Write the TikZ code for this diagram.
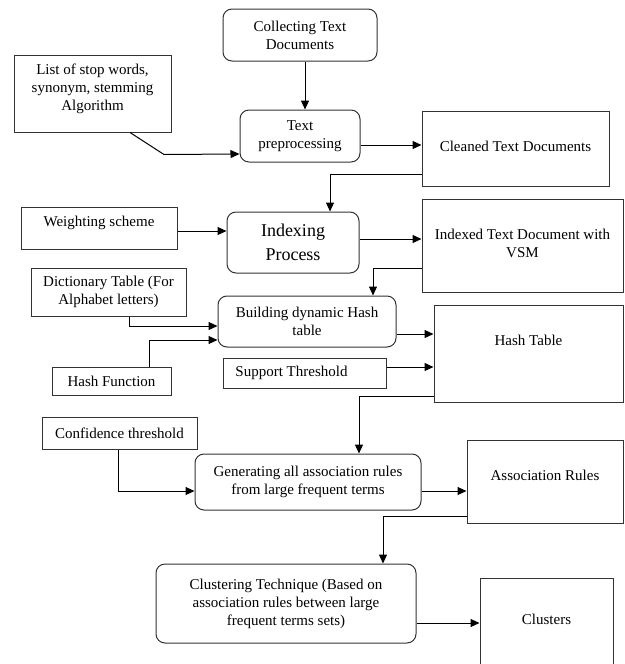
\documentclass[tikz,border=0pt]{standalone}
\usepackage{fontspec}
\setmainfont{Liberation Serif}
\usetikzlibrary{positioning, calc}
\usetikzlibrary{arrows.meta}

\tikzset{
  blk/.style={draw=black!80, line width=1pt, inner sep=2pt},
  rblk/.style={blk, rounded corners=9pt},
  arr/.style={draw=black, line width=1pt, -{Triangle[length=9pt,width=8pt]}},
  bigtxt/.style={font=\fontsize{18}{23.5}\selectfont},
}

\begin{document}
\begin{tikzpicture}[x=1pt, y=-1pt,
  every node/.append style={font=\fontsize{15}{18}\selectfont, align=center}]
\useasboundingbox (0,0) rectangle (624,664);

% main flow
\node[rblk, minimum width=154pt, minimum height=52pt] (collect) at (300,35) {Collecting Text\\Documents};
\node[rblk, minimum width=120pt, minimum height=52pt] (prep) at (300,136) {Text\\preprocessing};
\node[rblk, bigtxt, minimum width=132pt, minimum height=61pt] (index) at (293,242.5) {Indexing\\Process};
\node[rblk, minimum width=178pt, minimum height=51pt] (build) at (307,321.5) {Building dynamic Hash\\table};
\node[rblk, minimum width=226pt, minimum height=56pt] (gen) at (308,482) {Generating all association rules\\from large frequent terms};
\node[rblk, minimum width=260pt, minimum height=79pt] (clust) at (286,603.5) {Clustering Technique (Based on\\association rules between large\\frequent terms sets)};

% inputs
\node[blk, minimum width=157pt, minimum height=77pt,
  label={[yshift=4.5pt]center:List of stop words,\\synonym, stemming\\Algorithm}] (stopw) at (92.5,93.5) {};
\node[blk, minimum width=156pt, minimum height=42pt,
  label={[yshift=5pt]center:Weighting scheme}] (weight) at (99,228) {};
\node[blk, minimum width=155pt, minimum height=48pt] (dict) at (108.5,292) {Dictionary Table (For\\Alphabet letters)};
\node[blk, minimum width=119pt, minimum height=28pt] (hashf) at (111.5,381) {Hash Function};
\node[blk, minimum width=163pt, minimum height=30pt,
  label={[xshift=-13pt]center:Support Threshold}] (support) at (304.5,373) {};
\node[blk, minimum width=155pt, minimum height=32pt] (conf) at (119.5,433) {Confidence threshold};

% outputs
\node[blk, minimum width=187pt, minimum height=75pt,
  label={[yshift=2.5pt]center:Cleaned Text Documents}] (clean) at (515.5,148.5) {};
\node[blk, minimum width=201pt, minimum height=93pt,
  label={[yshift=2pt]center:Indexed Text Document with\\VSM}] (indexed) at (522.5,245.5) {};
\node[blk, minimum width=189pt, minimum height=97pt,
  label={[yshift=13.5pt]center:Hash Table}] (hasht) at (528.5,353.5) {};
\node[blk, minimum width=156pt, minimum height=83pt,
  label={[yshift=6.5pt]center:Association Rules}] (assoc) at (545,481.5) {};
\node[blk, minimum width=133pt, minimum height=102pt,
  label={[yshift=10pt]center:Clusters}] (clusters) at (546.5,629) {};

% connectors
\draw[arr] ([xshift=5pt]collect.south) -- ([xshift=5pt]prep.north);
\draw[arr] ([xshift=37.5pt]stopw.south) -- ++(34,22) -- ([yshift=-18pt]prep.west);
\draw[arr] ([yshift=-9pt]prep.east) -- ([yshift=-9pt]prep.east -| clean.west);
\draw[arr] ([yshift=-25.5pt]clean.west) -| ([xshift=37pt]index.north);
\draw[arr] ([yshift=-3pt]weight.east) -- ([yshift=-3pt]weight.east -| index.west);
\draw[arr] ([yshift=3.5pt]index.east) -- ([yshift=3.5pt]index.east -| indexed.west);
\draw[arr] ([yshift=-22.5pt]indexed.west) -| ([xshift=66pt]build.north);
\draw[arr] ([xshift=20.5pt]dict.south) |- ([yshift=-4.5pt]build.west);
\draw[arr] ([xshift=37.5pt]hashf.north) |- ([yshift=-18.5pt]build.west);
\draw[arr] ([yshift=-12.5pt]build.east) -- ([yshift=-12.5pt]build.east -| hasht.west);
\draw[arr] ([yshift=6pt]support.east) -- ([yshift=6pt]support.east -| hasht.west);
\draw[arr] ([yshift=-42.5pt]hasht.west) -| ([xshift=51pt]gen.north);
\draw[arr] ([xshift=-1.5pt]conf.south) |- ([yshift=-9pt]gen.west);
\draw[arr] ([yshift=-9pt]gen.east) -- ([yshift=-9pt]gen.east -| assoc.west);
\draw[arr] ([yshift=-34.5pt]assoc.west) -| ([xshift=97pt]clust.north);
\draw[arr] ([yshift=-19.5pt]clust.east) -- ([yshift=-19.5pt]clust.east -| clusters.west);
\end{tikzpicture}
\end{document}
